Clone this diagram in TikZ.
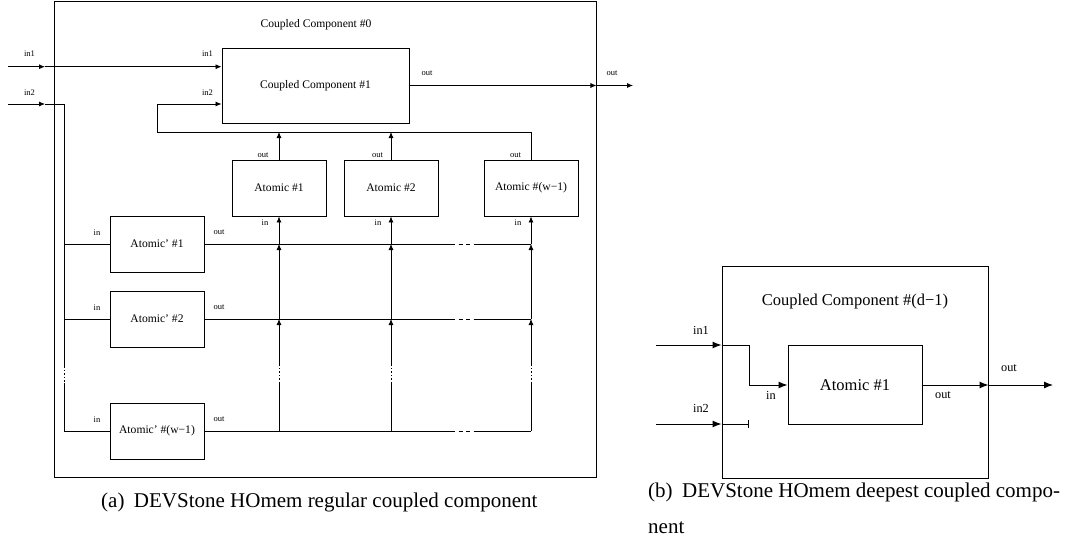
\documentclass[tikz,border=0pt]{standalone}
\usepackage{fontspec}
\setmainfont{Liberation Serif}
\usetikzlibrary{arrows.meta}

\tikzset{
  box/.style={draw, line width=0.9pt, inner sep=0pt, align=center,
              font=\fontsize{11.6}{13}\selectfont},
  lbl/.style={inner sep=0pt, font=\fontsize{8.5}{10}\selectfont},
  wire/.style={line width=0.8pt},
  arr/.style={wire, -{Latex[length=6pt,width=5pt]}},
  gapdots/.style={wire, dash pattern=on 1.5pt off 2pt},
  gapdash/.style={wire, dash pattern=on 4pt off 3.5pt},
  rbox/.style={draw, line width=1pt, inner sep=0pt, align=center,
               font=\fontsize{16.5}{19}\selectfont},
  rlbl/.style={inner sep=0pt, font=\fontsize{12.3}{14}\selectfont},
  rwire/.style={line width=1pt},
  rarr/.style={rwire, -{Latex[length=9pt,width=7pt]}},
  capt/.style={inner sep=0pt, font=\fontsize{21}{25}\selectfont}
}

\begin{document}
\begin{tikzpicture}[x=1pt, y=-1pt]
\useasboundingbox (0,0) rectangle (1065,543);

% ---------------- regular coupled component ----------------
\node[box, minimum width=542pt, minimum height=476pt] (cc0) at (325,239) {};
\node[inner sep=0pt, font=\fontsize{11.6}{13}\selectfont] (cc0t) at (316,25) {Coupled Component \#0};
\node[box, minimum width=187pt, minimum height=75pt] (cc1) at (315.5,85.5) {Coupled Component \#1};

\node[box, minimum width=94pt, minimum height=56pt] (a1) at (279,188) {Atomic \#1};
\node[box, minimum width=94pt, minimum height=56pt] (a2) at (391,188) {Atomic \#2};
\node[box, minimum width=94pt, minimum height=56pt] (a3) at (531,188) {Atomic \#(w−1)};

\node[box, minimum width=94pt, minimum height=56pt] (ap1) at (157,244) {Atomic’ \#1};
\node[box, minimum width=94pt, minimum height=56pt] (ap2) at (157,319) {Atomic’ \#2};
\node[box, minimum width=94pt, minimum height=56pt] (ap3) at (157,431) {Atomic’ \#(w−1)};

% port labels
\node[lbl] (l-in1) at (29.5,54) {in1};
\node[lbl] (l-in2) at (29.5,92.3) {in2};
\node[lbl] (l-cin1) at (207.5,54) {in1};
\node[lbl] (l-cin2) at (207.5,92.3) {in2};
\node[lbl] (l-cout) at (427,73) {out};
\node[lbl] (l-out) at (612,73) {out};
\node[lbl] (l-a1o) at (263,155) {out};
\node[lbl] (l-a2o) at (377.5,155) {out};
\node[lbl] (l-a3o) at (515.5,155) {out};
\node[lbl] (l-a1i) at (265,223) {in};
\node[lbl] (l-a2i) at (378,223) {in};
\node[lbl] (l-a3i) at (518,223) {in};
\foreach \r/\y in {1/232.3,2/307.3,3/419.3} {
  \node[lbl] (l-ap\r i) at (97,\y) {in};
  \node[lbl] (l-ap\r o) at (219,\y) {out};
}

% external inputs
\coordinate (in1s) at (8,66.7);
\coordinate (in1a) at (45,66.7);
\coordinate (in2s) at (8,104);
\coordinate (in2a) at (45,104);
\draw[arr] (in1s) -- (in1a);
\draw[arr] (in1a) -- (cc1.west |- in1a);
\draw[arr] (in2s) -- (in2a);

% in2 bus feeding the primed atomics
\coordinate (b0) at (64,104);
\coordinate (bhi) at (64,366);
\coordinate (blo) at (64,383);
\coordinate (br1) at (64,244);
\coordinate (br2) at (64,319);
\coordinate (br3) at (64,431);
\draw[wire] (in2a) -- (b0) -- (bhi);
\draw[gapdots] (bhi) -- (blo);
\draw[wire] (blo) -- (br3) -- (ap3.west);
\draw[wire] (br1) -- (ap1.west);
\draw[wire] (br2) -- (ap2.west);

% feedback from the atomics into in2 of component #1
\coordinate (fb1) at (157,132);
\coordinate (fb2) at (157,104);
\draw[wire] (a3.north) -- (a3.north |- fb1) -- (fb1);
\draw[arr] (fb1) -- (fb2) -- (cc1.west |- fb2);
\draw[arr] (a1.north) -- (a1.north |- fb1);
\draw[arr] (a2.north) -- (a2.north |- fb1);

% output
\coordinate (o0) at (cc0.east |- cc1.east);
\coordinate (oend) at (633,85.5);
\draw[arr] (cc1.east) -- (o0);
\draw[arr] (o0) -- (oend);

% grid of couplings between primed and plain atomics
\foreach \c/\x in {1/279,2/391,3/531} {
  \coordinate (c\c hi) at (\x,366);
  \coordinate (c\c lo) at (\x,383);
  \foreach \r/\y in {1/244,2/319,3/431}
    \coordinate (c\c r\r) at (\x,\y);
}
\foreach \r/\y in {1/244,2/319,3/431} {
  \coordinate (dA\r) at (451,\y);
  \coordinate (dB\r) at (475,\y);
  \draw[wire] (ap\r.east) -- (dA\r);
  \draw[gapdash] (dA\r) -- (dB\r);
  \draw[wire] (dB\r) -- (c3r\r);
}
\foreach \c in {1,2,3} {
  \draw[wire] (c\c r3) -- (c\c lo);
  \draw[gapdots] (c\c lo) -- (c\c hi);
  \draw[arr] (c\c hi) -- (c\c r2);
  \draw[arr] (c\c r2) -- (c\c r1);
  \draw[arr] (c\c r1) -- (a\c.south);
}

% ---------------- deepest coupled component ----------------
\node[rbox, minimum width=266pt, minimum height=212pt] (dcc) at (855,372) {};
\node[inner sep=0pt, font=\fontsize{16.5}{19}\selectfont] (dcct) at (855,302) {Coupled Component \#(d−1)};
\node[rbox, minimum width=134pt, minimum height=79pt] (ra) at (855,385) {Atomic \#1};

\coordinate (rin1s) at (656,345);
\coordinate (rin1a) at (dcc.west |- rin1s);
\coordinate (rk1) at (749,345);
\coordinate (rk2) at (749,385);
\draw[rarr] (rin1s) -- (rin1a);
\draw[rarr] (rin1a) -- (rk1) -- (rk2) -- (ra.west |- rk2);

\coordinate (rin2s) at (656,424);
\coordinate (rin2a) at (dcc.west |- rin2s);
\coordinate (rk3) at (749,424);
\draw[rarr] (rin2s) -- (rin2a);
\draw[rwire, -{Bar[width=8pt]}] (rin2a) -- (rk3);

\coordinate (rout1) at (dcc.east |- ra.east);
\coordinate (rout2) at (1053,385);
\draw[rarr] (ra.east) -- (rout1);
\draw[rarr] (rout1) -- (rout2);

\node[rlbl] (r-in1) at (701,330) {in1};
\node[rlbl] (r-in2) at (701,408) {in2};
\node[rlbl] (r-ain) at (771,395) {in};
\node[rlbl] (r-aout) at (943,395) {out};
\node[rlbl] (r-out) at (1009,368) {out};

% ---------------- captions ----------------
\node[capt, anchor=base west] (capa) at (101,507) {(a)\hspace{0.45em}DEVStone HOmem regular coupled component};
\node[capt, anchor=base west] (capb1) at (648,497) {(b)\hspace{0.45em}DEVStone HOmem deepest coupled compo-};
\node[capt, anchor=base west] (capb2) at (648,533) {nent};

\end{tikzpicture}
\end{document}
